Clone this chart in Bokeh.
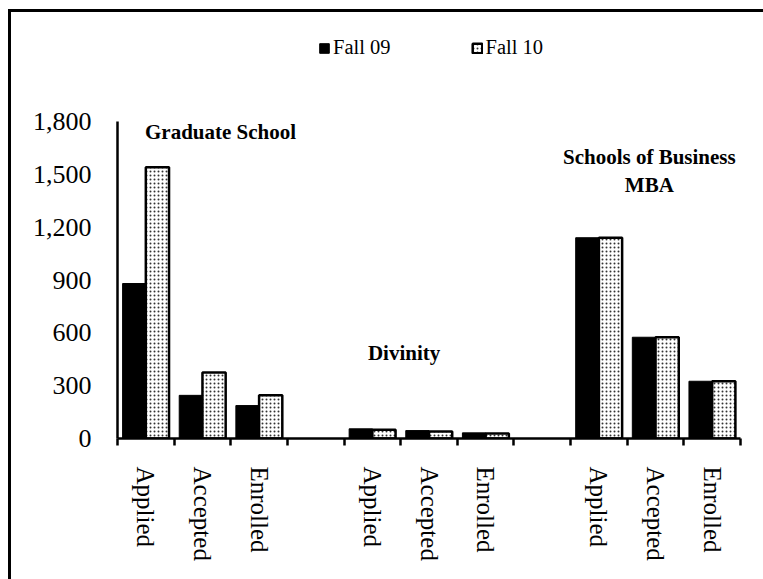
from bokeh.plotting import figure
from bokeh.models import (ColumnDataSource, FixedTicker, NumeralTickFormatter,
                          Legend, LegendItem, Range1d, Label)
from bokeh.transform import dodge
from bokeh.embed import file_html
from bokeh.resources import INLINE

# ---------------- data ----------------
schools = ["Graduate School", "Divinity", "Schools of Business MBA"]
stages = ["Applied", "Accepted", "Enrolled"]
fall_09 = [880, 245, 187, 55, 45, 32, 1140, 575, 325]
fall_10 = [1540, 375, 245, 50, 40, 28, 1140, 575, 325]
y_ticks = [0, 300, 600, 900, 1200, 1500, 1800]
y_max = 1800

# category slots: 3 stages per school, one empty slot between schools
slot_x = []
slot_labels = []
for g in range(len(schools)):
    for s, st in enumerate(stages):
        slot_x.append(g * 4 + s + 0.5)
        slot_labels.append(st)
n_slots = 4 * len(schools) - 1
boundaries = list(range(n_slots + 1))

src = ColumnDataSource(dict(x=slot_x, f09=fall_09, f10=fall_10))

FONT = "Liberation Serif"

# frame extends above the axis top to hold the legend; axis line bounded to 0..1800
W, H = 755, 570
B_LEFT, B_RIGHT, B_TOP, B_BOTTOM = 109, 23, 11, 141
frame_h = H - B_TOP - B_BOTTOM
axis_h = 317
y_end = y_max * frame_h / axis_h

p = figure(width=W, height=H, output_backend="svg", toolbar_location=None,
           x_range=Range1d(0, n_slots), y_range=Range1d(0, y_end),
           min_border_left=B_LEFT, min_border_right=B_RIGHT,
           min_border_top=B_TOP, min_border_bottom=B_BOTTOM)
p.margin = (9, 0, 0, 8)
p.styles = {"box-shadow": "inset 3px 3px 0 0 black"}
p.outline_line_color = None
p.xgrid.visible = False
p.ygrid.visible = False
p.background_fill_color = "white"
p.border_fill_alpha = 0

bw = 0.41
r09 = p.vbar(x=dodge("x", -bw / 2, range=p.x_range), top="f09", width=bw, source=src,
             fill_color="black", line_color="black", line_width=1)
r10 = p.vbar(x=dodge("x", bw / 2, range=p.x_range), top="f10", width=bw, source=src,
             fill_color="white", line_color="black", line_width=2.5,
             hatch_pattern="dot", hatch_color="black", hatch_alpha=0.8,
             hatch_scale=4, hatch_weight=1)

# y axis
ya = p.yaxis[0]
ya.ticker = FixedTicker(ticks=y_ticks)
ya.bounds = (0, y_max)
ya.formatter = NumeralTickFormatter(format="0,0")
ya.axis_line_width = 2.5
ya.axis_line_color = "black"
ya.major_tick_out = 0
ya.major_tick_in = 0
ya.minor_tick_out = 0
ya.minor_tick_in = 0
ya.major_label_standoff = 26
ya.major_label_text_font = FONT
ya.major_label_text_font_size = "26px"
ya.major_label_text_color = "black"

# x axis
xa = p.xaxis[0]
xa.ticker = FixedTicker(ticks=slot_x, minor_ticks=boundaries)
xa.major_label_overrides = {x: lab for x, lab in zip(slot_x, slot_labels)}
xa.axis_line_width = 2.5
xa.axis_line_color = "black"
xa.major_tick_out = 0
xa.major_tick_in = 0
xa.minor_tick_out = 7
xa.minor_tick_in = 0
xa.minor_tick_line_width = 2.5
xa.minor_tick_line_color = "black"
xa.major_label_orientation = "vertical"
xa.major_label_standoff = 21
xa.major_label_text_font = FONT
xa.major_label_text_font_size = "25px"
xa.major_label_text_color = "black"

# group titles
def add_label(x, y, text):
    p.add_layout(Label(x=x, y=y, text=text, text_font=FONT, text_font_style="bold",
                       text_font_size="21px", text_align="center",
                       text_baseline="middle", text_color="black"))

add_label(1.82, 1743, "Graduate School")
add_label(5.06, 488, "Divinity")
add_label(9.39, 1601, "Schools of Business")
add_label(9.39, 1437, "MBA")

legend = Legend(items=[LegendItem(label="Fall 09", renderers=[r09]),
                       LegendItem(label="Fall 10", renderers=[r10])],
                orientation="horizontal", location=(201, 379),
                label_text_font=FONT, label_text_font_size="20.5px",
                label_text_color="black",
                glyph_width=12, glyph_height=12, label_standoff=3, spacing=80,
                padding=0, margin=0, border_line_color=None,
                background_fill_alpha=0)
p.add_layout(legend, "center")

open("out.html", "w").write(file_html(p, INLINE))
